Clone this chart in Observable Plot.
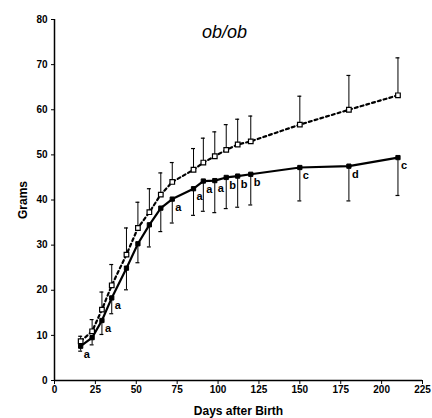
<!DOCTYPE html>
<html>
<head>
<meta charset="utf-8">
<script src="https://cdn.jsdelivr.net/npm/d3@7"></script>
<script src="https://cdn.jsdelivr.net/npm/@observablehq/plot@0.6"></script>
<style>
  html, body { margin: 0; padding: 0; background: #fff; }
  #chart svg { display: block; }
</style>
</head>
<body>
<div id="chart"></div>
<script>
const days = [16, 23, 29, 35, 44, 51, 58, 65, 72, 85, 91, 98, 105, 112, 120, 150, 180, 210];
// filled squares (solid line), error bars downward
const solidMean = [7.6, 9.5, 13.3, 18.3, 24.9, 30.3, 34.5, 38.2, 40.2, 42.5, 44.2, 44.3, 45.0, 45.3, 45.7, 47.2, 47.5, 49.4];
const solidLow  = [6.5, 7.9, 10.2, 14.8, 20.1, 26.1, 29.6, 33.0, 34.9, 36.6, 37.5, 37.2, 38.1, 38.4, 38.9, 39.8, 39.8, 41.0];
const letters   = ["a", "", "a", "a", "", "", "", "", "a", "a", "a", "a", "b", "b", "b", "c", "d", "c"];
// open squares (dashed line), error bars upward
const openMean  = [8.7, 10.9, 15.7, 21.1, 27.9, 33.8, 37.3, 41.2, 44.0, 46.7, 48.3, 49.7, 51.1, 52.3, 53.0, 56.7, 60.0, 63.2];
const openHigh  = [9.8, 13.5, 19.6, 25.7, 33.8, 39.5, 42.5, 46.0, 48.3, 51.4, 53.7, 55.1, 56.7, 57.9, 58.6, 63.0, 67.6, 71.5];
const xTicks = [0, 25, 50, 75, 100, 125, 150, 175, 200, 225];
const yTicks = [0, 10, 20, 30, 40, 50, 60, 70, 80];
const title = "ob/ob";

const solid = days.map((d, i) => ({day: d, mean: solidMean[i], err: solidLow[i], letter: letters[i]}));
const open = days.map((d, i) => ({day: d, mean: openMean[i], err: openHigh[i]}));
const capHalf = 1.2;

const font = "'Liberation Sans', Arial, Helvetica, sans-serif";

const chart = Plot.plot({
  width: 432,
  height: 418,
  marginLeft: 54,
  marginRight: 10,
  marginTop: 19,
  marginBottom: 38,
  style: {fontFamily: font, background: "#fff", color: "#000"},
  x: {domain: [0, 225]},
  y: {domain: [0, 80]},
  marks: [
    Plot.axisX({ticks: xTicks, tickSize: 4, tickPadding: 1, fontSize: 10, fontWeight: "bold",
      label: "Days after Birth", labelAnchor: "center", labelArrow: "none", labelOffset: 34}),
    Plot.axisY({ticks: yTicks, tickSize: 3, tickPadding: 4, fontSize: 10, fontWeight: "bold",
      label: "Grams", labelAnchor: "center", labelArrow: "none", labelOffset: 36}),
    Plot.ruleY([0], {stroke: "#000", strokeWidth: 1.5}),
    Plot.ruleX([0], {stroke: "#000", strokeWidth: 1.5}),
    // error bars
    Plot.ruleX(open, {x: "day", y1: "mean", y2: "err", stroke: "#000", strokeWidth: 1}),
    Plot.ruleY(open, {y: "err", x1: d => d.day - capHalf, x2: d => d.day + capHalf, stroke: "#000", strokeWidth: 1.2}),
    Plot.ruleX(solid, {x: "day", y1: "mean", y2: "err", stroke: "#000", strokeWidth: 1}),
    Plot.ruleY(solid, {y: "err", x1: d => d.day - capHalf, x2: d => d.day + capHalf, stroke: "#000", strokeWidth: 1.2}),
    // lines
    Plot.line(open, {x: "day", y: "mean", stroke: "#000", strokeWidth: 2.2, strokeDasharray: "3,3"}),
    Plot.line(solid, {x: "day", y: "mean", stroke: "#000", strokeWidth: 2.2}),
    // markers
    Plot.dot(open, {x: "day", y: "mean", symbol: "square", r: 2.6, fill: "#fff", stroke: "#000", strokeWidth: 1.2}),
    Plot.dot(solid, {x: "day", y: "mean", symbol: "square", r: 2.4, fill: "#000", stroke: "#000", strokeWidth: 1}),
    // significance letters
    Plot.text(solid, {x: "day", y: "mean", text: "letter", dx: 3, dy: 8, textAnchor: "start",
      fontSize: 11, fontWeight: "bold", fill: "#000"}),
    // title
    Plot.text([title], {frameAnchor: "top", dx: -14, dy: 6, fontSize: 18, fontStyle: "italic", fill: "#000"})
  ]
});
chart.querySelectorAll("[aria-label='x-axis label'] text, [aria-label='y-axis label'] text").forEach(t => {
  t.setAttribute("font-size", "12");
  t.setAttribute("font-weight", "bold");
});
document.getElementById("chart").append(chart);
</script>
</body>
</html>
